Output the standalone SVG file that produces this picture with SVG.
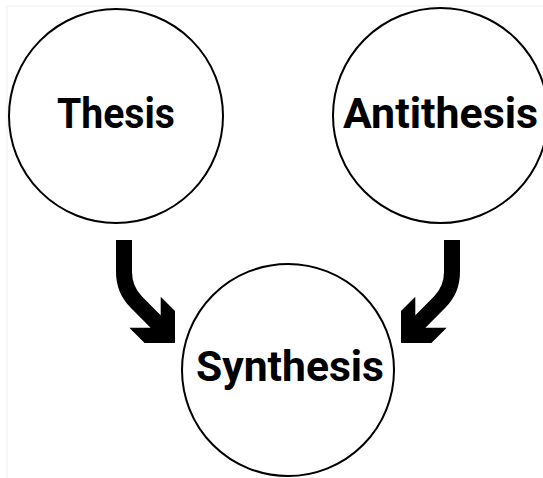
<svg xmlns="http://www.w3.org/2000/svg" width="543" height="478" viewBox="0 0 543 478">
  <defs>
    <style>
      .node circle { fill: #ffffff; stroke: #000000; stroke-width: 2; }
      .node text { font-family: Roboto, "Liberation Sans", Arial, sans-serif; font-weight: 700; font-size: 43px; fill: #000000; text-anchor: middle; }
      .shaft { fill: none; stroke: #000000; stroke-width: 16; stroke-linecap: butt; }
      .head { fill: #000000; stroke: none; }
    </style>
    <!-- curved block arrow: vertical shaft bending to 45 degrees, square-cornered head -->
    <g id="bentArrow">
      <path class="shaft" d="M124 240 V272 A43 43 0 0 0 136.6 302.4 L158 323.8"/>
      <polygon class="head" points="160.7,296.7 175,311 175,343 144.6,343 129.3,327.7 150.4,327.7 160.7,315.4"/>
    </g>
  </defs>

  <rect x="0" y="0" width="543" height="478" fill="#ffffff"/>
  <polyline points="7,478 7,6 543,6" fill="none" stroke="#f7f7f3" stroke-width="2"/>

  <g id="connectors">
    <use href="#bentArrow"/>
    <use href="#bentArrow" transform="translate(576,0) scale(-1,1)"/>
  </g>

  <g id="thesis" class="node">
    <circle cx="116" cy="116" r="107"/>
    <text x="116" y="128" textLength="118" lengthAdjust="spacingAndGlyphs">Thesis</text>
  </g>

  <g id="antithesis" class="node">
    <circle cx="440.5" cy="115.5" r="107.5"/>
    <text x="440.5" y="128" textLength="195" lengthAdjust="spacingAndGlyphs">Antithesis</text>
  </g>

  <g id="synthesis" class="node">
    <circle cx="288" cy="370" r="106"/>
    <text x="290" y="381" textLength="188" lengthAdjust="spacingAndGlyphs">Synthesis</text>
  </g>
</svg>
